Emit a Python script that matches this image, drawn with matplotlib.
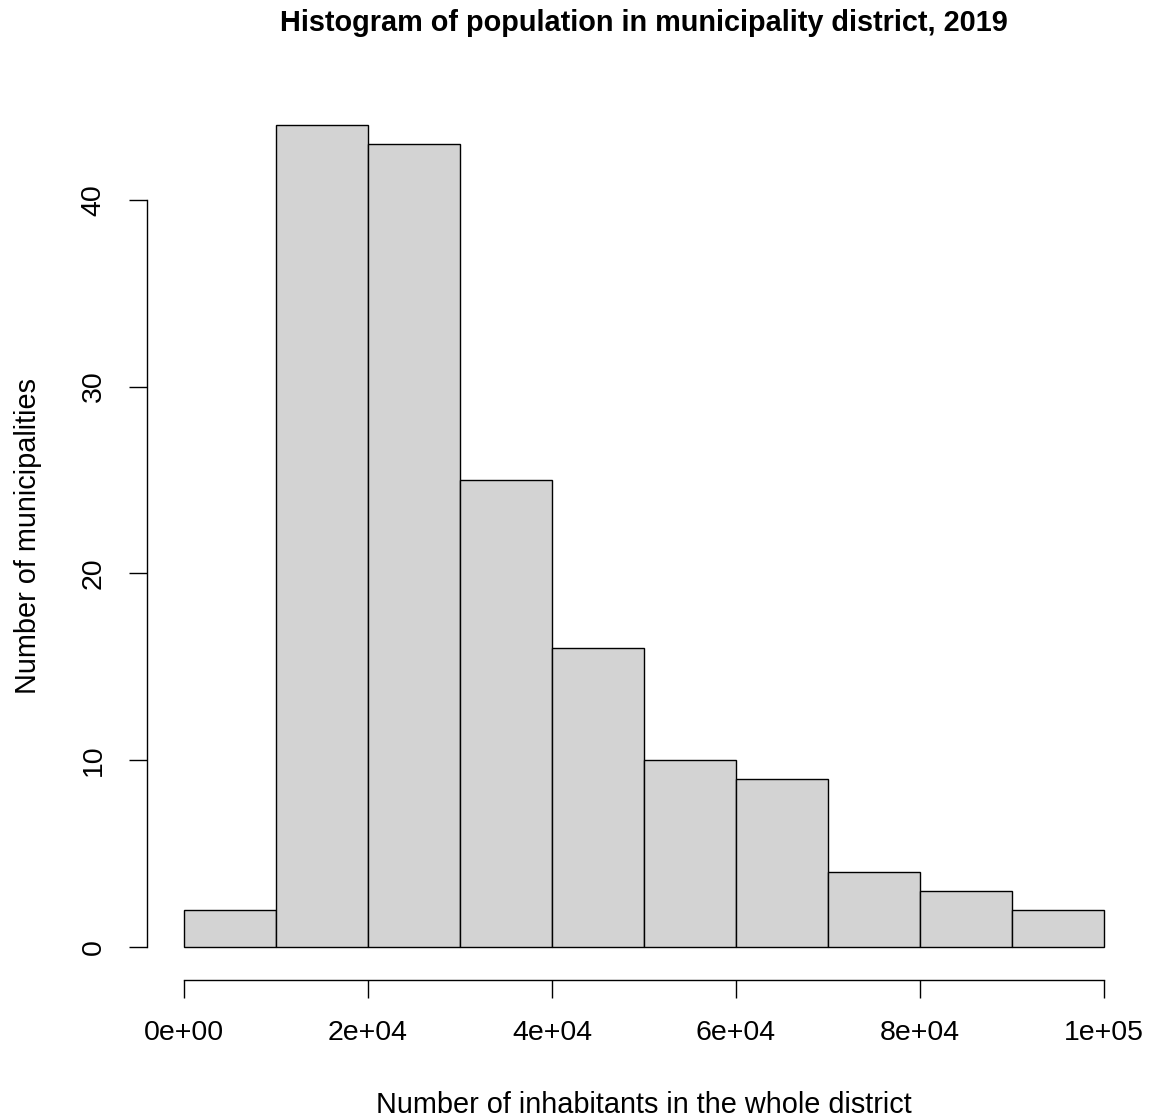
import matplotlib
matplotlib.use("Agg")
import matplotlib.pyplot as plt
import numpy as np

plt.rcParams['font.family'] = ['Liberation Sans', 'DejaVu Sans']

bin_edges = [0, 10000, 20000, 30000, 40000, 50000, 60000, 70000, 80000, 90000, 100000]
counts = [2, 44, 43, 25, 16, 10, 9, 4, 3, 2]
x_ticks = [0, 20000, 40000, 60000, 80000, 100000]
x_tick_labels = ["0e+00", "2e+04", "4e+04", "6e+04", "8e+04", "1e+05"]
y_ticks = [0, 10, 20, 30, 40]

W, H = 1152, 1119
fig = plt.figure(figsize=(W / 100, H / 100), dpi=100)
ax = fig.add_axes([147 / W, 1 - 980 / H, 994 / W, 888 / H])

lefts = np.array(bin_edges[:-1])
widths = np.diff(bin_edges)
ax.bar(lefts, counts, width=widths, align='edge', color='#D3D3D3',
       edgecolor='black', linewidth=1.0)

ax.set_xlim(-4000, 104000)
ax.set_ylim(-1.76, 45.76)
for s in ['top', 'right']:
    ax.spines[s].set_visible(False)
ax.spines['bottom'].set_bounds(0, 100000)
ax.spines['left'].set_bounds(0, 40)
ax.spines['bottom'].set_linewidth(1.0)
ax.spines['left'].set_linewidth(1.0)

ax.set_xticks(x_ticks)
ax.set_xticklabels(x_tick_labels)
ax.set_yticks(y_ticks)
ax.set_yticklabels([str(v) for v in y_ticks], rotation=90, va='center')
ax.tick_params(axis='both', length=13, width=1.0, labelsize=20.5, pad=16)

ax.set_xlabel("Number of inhabitants in the whole district", fontsize=20.8, labelpad=32)
ax.set_ylabel("Number of municipalities", fontsize=20.8, labelpad=28)
fig.text((147 + 1141) / 2 / W, 1 - 23 / H,
         "Histogram of population in municipality district, 2019",
         ha='center', va='center', fontsize=20.8, fontweight='bold')

fig.savefig("out.png", dpi=100)
